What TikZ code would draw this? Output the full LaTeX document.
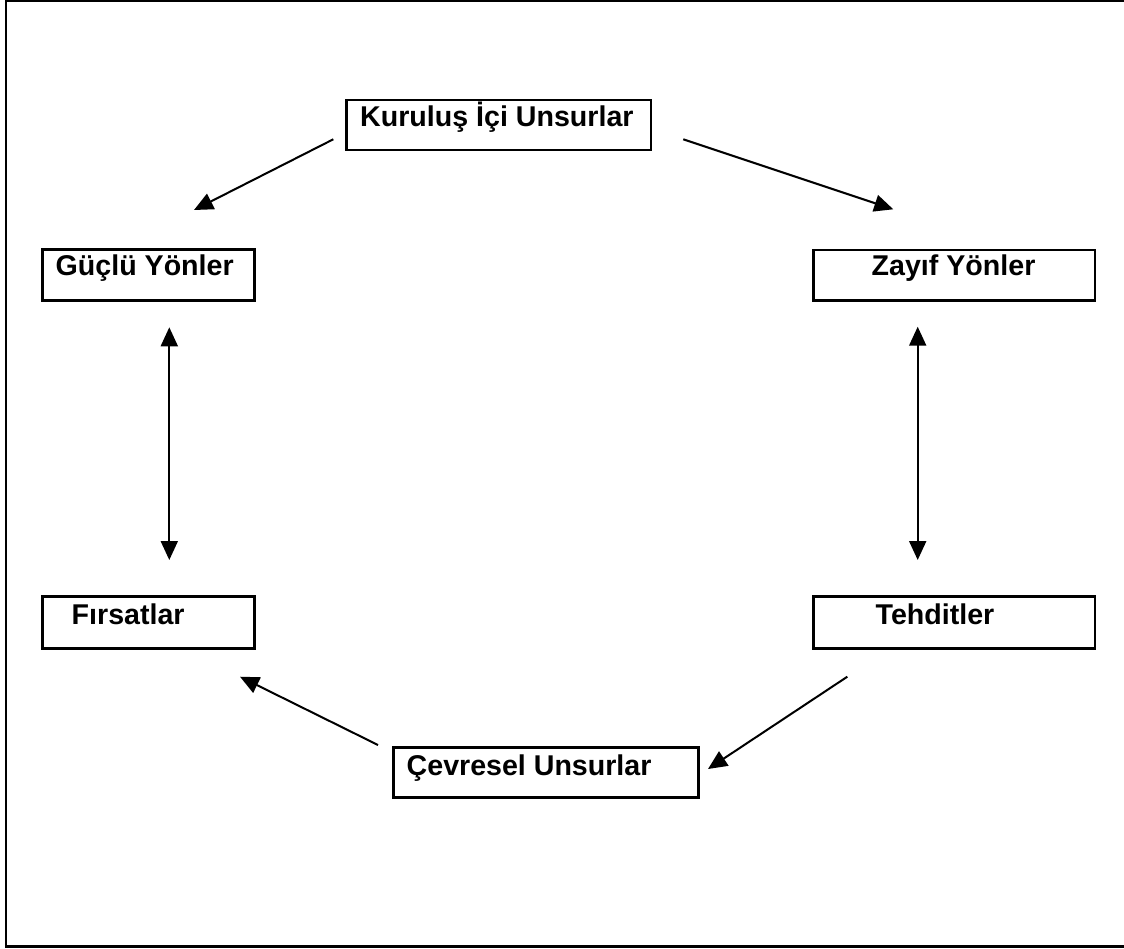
\documentclass[tikz,border=0pt]{standalone}
\usepackage{fontspec}
\setmainfont{Liberation Sans}
\usetikzlibrary{arrows.meta}
\begin{document}
\begin{tikzpicture}[x=1pt,y=-1pt,
  boxstyle/.style={draw,line width=2.8pt,minimum width=#1,inner sep=0pt},
  lbl/.style={anchor=base west,inner sep=0pt,font=\fontsize{28.6}{31}\selectfont\bfseries},
  arr/.style={line width=2pt,-{Triangle[length=19pt,width=17pt]}},
  darr/.style={line width=2pt,{Triangle[length=19pt,width=17pt]}-{Triangle[length=19pt,width=17pt]}}]
\useasboundingbox (0,0) rectangle (1124,948);
% frame
\draw[line width=2.4pt] (1124,1.2) -- (6,1.2) -- (6,946.5) -- (1124,946.5);
% boxes
\node[boxstyle=304.3pt,minimum height=50pt] (kur) at (498.8,125) {};
\node[boxstyle=211.6pt,minimum height=51.4pt] (gu) at (148.5,275) {};
\node[boxstyle=281.7pt,minimum height=50.7pt] (za) at (954.2,275.3) {};
\node[boxstyle=211.6pt,minimum height=51.6pt] (fi) at (148.5,622.5) {};
\node[boxstyle=281.7pt,minimum height=51.6pt] (te) at (954.2,622.5) {};
\node[boxstyle=305pt,minimum height=50pt] (ce) at (545.8,772.7) {};
% labels
\node[lbl] (tkur) at (360,126.7) {Kuruluş İçi Unsurlar};
\node[lbl] (tgu) at (55.5,275) {Güçlü Yönler};
\node[lbl] (tza) at (871.5,275) {Zayıf Yönler};
\node[lbl] (tfi) at (71.5,624) {Fırsatlar};
\node[lbl] (tte) at (875.5,624) {Tehditler};
\node[lbl] (tce) at (406.5,775) {Çevresel Unsurlar};
% connector ends
\coordinate (a1) at (333.3,139.3);
\coordinate (a2) at (194,210);
\coordinate (b1) at (683.3,139.3);
\coordinate (b2) at (893.3,209.3);
\coordinate (c1) at (169.3,327.3);
\coordinate (c2) at (169.3,560);
\coordinate (d1) at (917.7,326.7);
\coordinate (d2) at (917.7,560);
\coordinate (e1) at (847.3,676.7);
\coordinate (e2) at (708,769);
\coordinate (f1) at (378,745);
\coordinate (f2) at (240,676.7);
% connectors
\draw[arr] (a1) -- (a2);
\draw[arr] (b1) -- (b2);
\draw[darr] (c1) -- (c2);
\draw[darr] (d1) -- (d2);
\draw[arr] (e1) -- (e2);
\draw[arr] (f1) -- (f2);
\end{tikzpicture}
\end{document}
